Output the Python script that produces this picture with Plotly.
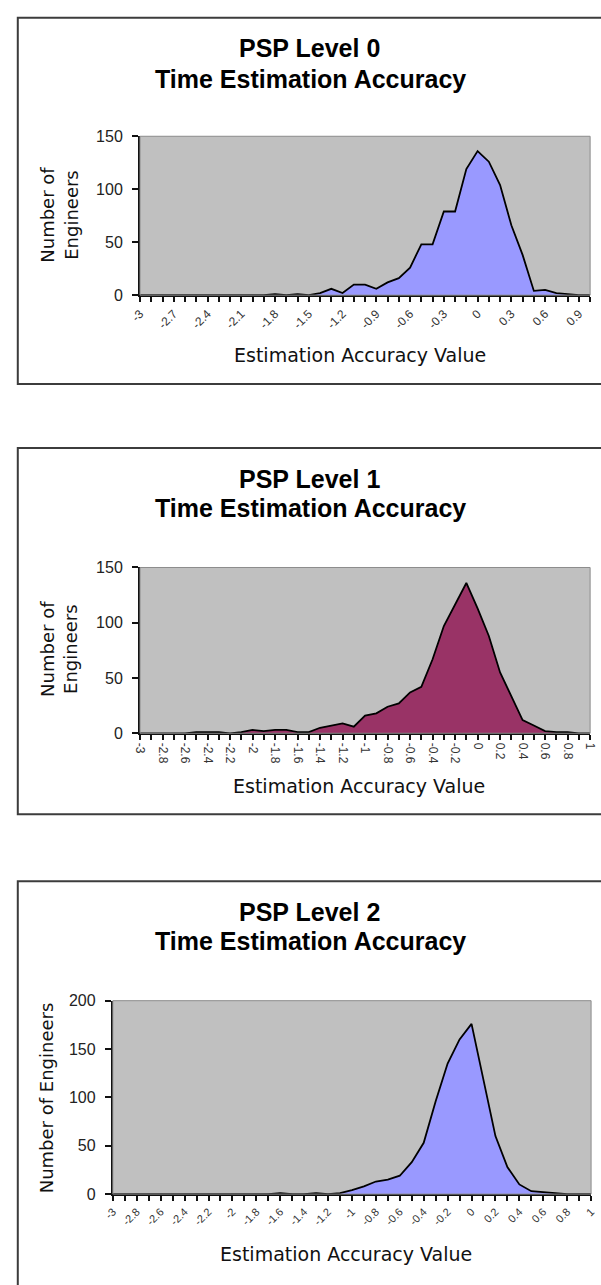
import plotly.graph_objects as go

# ---------------- data ----------------
accuracy_values = [-3.0, -2.9, -2.8, -2.7, -2.6, -2.5, -2.4, -2.3, -2.2, -2.1,
                   -2.0, -1.9, -1.8, -1.7, -1.6, -1.5, -1.4, -1.3, -1.2, -1.1,
                   -1.0, -0.9, -0.8, -0.7, -0.6, -0.5, -0.4, -0.3, -0.2, -0.1,
                   0.0, 0.1, 0.2, 0.3, 0.4, 0.5, 0.6, 0.7, 0.8, 0.9, 1.0]

level0_counts = [0, 0, 0, 0, 0, 0, 0, 0, 0, 0,
                 0, 0, 1, 0, 1, 0, 2, 6, 2, 10,
                 10, 6, 12, 16, 26, 48, 48, 79, 79, 119,
                 136, 126, 104, 66, 38, 4, 5, 2, 1, 0, 0]

level1_counts = [0, 0, 0, 0, 0, 1, 1, 1, 0, 1,
                 3, 2, 3, 3, 1, 1, 5, 7, 9, 6,
                 16, 18, 24, 27, 37, 42, 67, 97, 116, 136,
                 113, 88, 55, 33, 12, 7, 2, 1, 1, 0, 0]

level2_counts = [0, 0, 0, 0, 0, 0, 0, 0, 0, 0,
                 0, 0, 0, 0, 1, 0, 0, 1, 0, 1,
                 4, 8, 13, 15, 19, 33, 53, 96, 135, 160,
                 176, 118, 60, 28, 10, 3, 2, 1, 0, 0, 0]

level0_tick_labels = ["-3", "-2.7", "-2.4", "-2.1", "-1.8", "-1.5", "-1.2",
                      "-0.9", "-0.6", "-0.3", "0", "0.3", "0.6", "0.9"]
level12_tick_labels = ["-3", "-2.8", "-2.6", "-2.4", "-2.2", "-2", "-1.8",
                       "-1.6", "-1.4", "-1.2", "-1", "-0.8", "-0.6", "-0.4",
                       "-0.2", "0", "0.2", "0.4", "0.6", "0.8", "1"]

panel_titles = ["PSP Level 0", "PSP Level 1", "PSP Level 2"]
subtitle = "Time Estimation Accuracy"
x_title = "Estimation Accuracy Value"

# ---------------- geometry helpers ----------------
W, H = 601, 1285


def px(x):
    return x / W


def py(y):
    return 1 - y / H


def tick_text(labels):
    out = []
    for v in accuracy_values:
        s = ("%g" % v)
        if s == "-0":
            s = "0"
        out.append(s if s in labels else "")
    return out


fig = go.Figure()

series = [
    (level0_counts, "#9999FF"),
    (level1_counts, "#993366"),
    (level2_counts, "#9999FF"),
]
for i, (vals, col) in enumerate(series):
    sfx = "" if i == 0 else str(i + 1)
    fig.add_trace(go.Scatter(
        x=accuracy_values, y=vals, mode="lines",
        line=dict(color="black", width=1.8),
        fill="tozeroy", fillcolor=col,
        xaxis="x" + sfx, yaxis="y" + sfx, showlegend=False,
        hoverinfo="x+y",
    ))

# plot-area pixel boxes (left, right, top, bottom)
boxes = [
    (133, 597, 130, 291),
    (133, 597, 567, 735),
    (105, 598, 1006, 1202),
]
yranges = [150, 150, 200]
tick_sets = [level0_tick_labels, level12_tick_labels, level12_tick_labels]
tick_angles = [-45, 90, -45]
tick_sizes = [12, 12, 11]

layout = dict(
    width=W, height=H,
    margin=dict(l=0, r=0, t=0, b=0),
    paper_bgcolor="white",
    plot_bgcolor="#C0C0C0",
    showlegend=False,
    font=dict(family="Liberation Sans, Arial, sans-serif", color="black"),
)

for i, (l, r, t, b) in enumerate(boxes):
    sfx = "" if i == 0 else str(i + 1)
    layout["xaxis" + sfx] = dict(
        domain=[px(l), px(r)], anchor="y" + sfx,
        range=[-3, 1], showgrid=False, zeroline=False,
        showline=True, linecolor="#111", linewidth=2,
        ticks="outside", ticklen=5, tickwidth=2, tickcolor="#111",
        tickmode="array", tickvals=accuracy_values,
        ticktext=tick_text(tick_sets[i]),
        tickangle=tick_angles[i],
        ticklabeloverflow="allow",
        tickfont=dict(size=tick_sizes[i], color="#333",
                      family="Liberation Sans, Arial, sans-serif"),
        fixedrange=True,
    )
    layout["yaxis" + sfx] = dict(
        domain=[py(b), py(t)], anchor="x" + sfx,
        range=[0, yranges[i]], dtick=50, showgrid=False, zeroline=False,
        showline=True, linecolor="#111", linewidth=2,
        ticks="outside", ticklen=6, tickwidth=2, tickcolor="#111",
        ticklabelstandoff=6,
        tickfont=dict(size=16, color="#222",
                      family="Liberation Sans, Arial, sans-serif"),
        fixedrange=True,
    )

fig.update_layout(**layout)

shapes = []
# chart borders
for (y0, y1) in [(10, 381), (446, 817), (885, 1300)]:
    shapes.append(dict(type="rect", xref="paper", yref="paper",
                       x0=px(7), x1=px(640), y0=py(y1), y1=py(y0),
                       line=dict(color="#3c3c3c", width=2), layer="below"))
# plot-area borders
for i in range(3):
    sfx = "" if i == 0 else str(i + 1)
    shapes.append(dict(type="rect", xref="x" + sfx + " domain",
                       yref="y" + sfx + " domain",
                       x0=0, x1=1, y0=0, y1=1,
                       line=dict(color="#8c8c8c", width=1), layer="above"))
fig.update_layout(shapes=shapes)

annots = []
title_pos = [(41, 72), (477, 507), (916, 946)]
xtitle_pos = [(360, 352), (359, 788), (345, 1263)]
ytitle_pos = [(50, 210, "Number of<br>Engineers"),
              (50, 650, "Number of<br>Engineers"),
              (36, 1104, "Number of Engineers")]
for i in range(3):
    y1, y2 = title_pos[i]
    annots.append(dict(x=px(308), y=py(y1), xref="paper", yref="paper",
                       text="<b>%s</b>" % panel_titles[i], showarrow=False,
                       xanchor="center", yanchor="middle",
                       font=dict(size=25, family="Liberation Sans, Arial, sans-serif")))
    annots.append(dict(x=px(309), y=py(y2), xref="paper", yref="paper",
                       text="<b>%s</b>" % subtitle, showarrow=False,
                       xanchor="center", yanchor="middle",
                       font=dict(size=25, family="Liberation Sans, Arial, sans-serif")))
    xx, yy = xtitle_pos[i]
    annots.append(dict(x=px(xx), y=py(yy), xref="paper", yref="paper",
                       text=x_title, showarrow=False,
                       xanchor="center", yanchor="middle",
                       font=dict(size=19, family="DejaVu Sans, sans-serif", color="#111")))
    tx, ty, tt = ytitle_pos[i]
    annots.append(dict(x=px(tx), y=py(ty), xref="paper", yref="paper",
                       text=tt, showarrow=False, textangle=-90,
                       xanchor="center", yanchor="middle",
                       font=dict(size=18, family="DejaVu Sans, sans-serif", color="#111")))
fig.update_layout(annotations=annots)

fig.write_html(
    "out.html",
    config={"displayModeBar": False},
    post_script="document.body.style.margin='0';"
                "document.body.style.overflow='hidden';",
)
